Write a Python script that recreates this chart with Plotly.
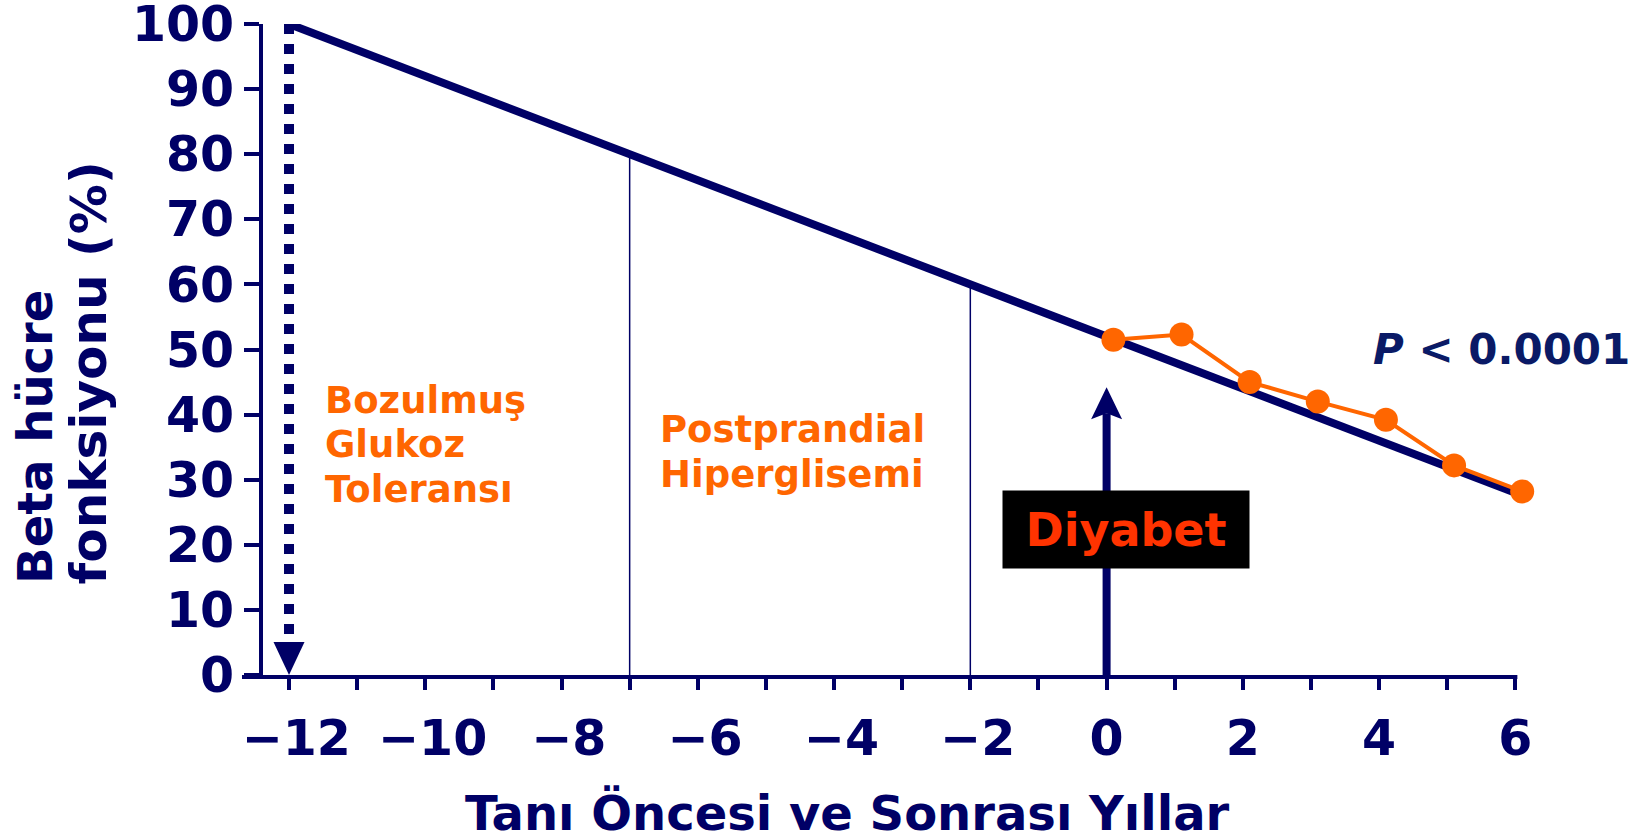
import numpy as np
import plotly.graph_objects as go

# ---------------- data ----------------
years_line = [-12, 6]
beta_line = [100, 28]
years_obs = [0.1, 1.1, 2.1, 3.1, 4.1, 5.1, 6.1]
beta_obs = [51.5, 52.3, 45.0, 42.0, 39.2, 32.2, 28.2]
phase_bounds = [-7, -2]
diagnosis_year = 0
diagnosis_arrow_top = 44.2
x_tick_vals = list(range(-12, 7, 2))
x_tick_text = ["\u2009\u200a\u221212", "\u2009\u200a\u221210", "\u2009\u200a\u22128",
               "\u2009\u200a\u22126", "\u2009\u200a\u22124", "\u2009\u200a\u22122",
               "0", "2", "4", "6"]
y_tick_vals = list(range(0, 101, 10))
y_tick_text = [str(v) for v in y_tick_vals]

# ---------------- style ----------------
NAVY = "#000066"
ORANGE = "#FF6600"
RED = "#FF3300"
FONT = "DejaVu Sans"

OFF = 0  # page body margin (removed by post_script)
W, H = 1650 - 2 * OFF, 839 - 2 * OFF
AX_L, X12_PX, X6_PX, Y0_PX, Y100_PX = 263, 289, 1515, 675, 24  # target page pixels
UNIT = (X6_PX - X12_PX) / 18.0
x_left = years_line[0] - (X12_PX - AX_L) / UNIT
x_right = 6.2
ML = AX_L - OFF
PW = (x_right - x_left) * UNIT
MR = W - ML - PW
MT = Y100_PX - OFF
PH = Y0_PX - Y100_PX
MB = H - MT - PH


def px_x(px):
    return (px - OFF - ML) / PW


def px_y(py):
    return (MT + PH - (py - OFF)) / PH


fig = go.Figure()

# dotted line at start (-12)
fig.add_trace(go.Scatter(
    x=[years_line[0], years_line[0]], y=[beta_line[0], 4.5],
    mode="lines", line=dict(color=NAVY, width=10, dash="dot"),
    hoverinfo="skip", showlegend=False))

# thin vertical phase boundaries up to the decline line
for xb in phase_bounds:
    yb = float(np.interp(xb, years_line, beta_line))
    fig.add_trace(go.Scatter(
        x=[xb, xb], y=[0, yb], mode="lines",
        line=dict(color=NAVY, width=1.5),
        hoverinfo="skip", showlegend=False))

# diagnosis arrow shaft
fig.add_trace(go.Scatter(
    x=[diagnosis_year, diagnosis_year], y=[0, diagnosis_arrow_top - 4],
    mode="lines", line=dict(color=NAVY, width=8),
    hoverinfo="skip", showlegend=False))

# main decline line
fig.add_trace(go.Scatter(
    x=years_line, y=beta_line, mode="lines",
    line=dict(color=NAVY, width=8),
    hoverinfo="skip", showlegend=False))

# observed data
fig.add_trace(go.Scatter(
    x=years_obs, y=beta_obs, mode="lines+markers",
    line=dict(color=ORANGE, width=4),
    marker=dict(color=ORANGE, size=24),
    cliponaxis=False, hoverinfo="skip", showlegend=False))

shapes = [
    # x axis line (ends at x = 6)
    dict(type="line", xref="paper", yref="paper",
         x0=px_x(242), x1=px_x(X6_PX + 2), y0=px_y(Y0_PX + 2), y1=px_y(Y0_PX + 2),
         line=dict(color=NAVY, width=4), layer="above"),
    # arrowhead of dotted line (pointing down)
    dict(type="path", xref="x", yref="y", xsizemode="pixel", ysizemode="pixel",
         xanchor=years_line[0], yanchor=0,
         path="M0,0 L-15.5,33 L15.5,33 Z",
         fillcolor=NAVY, line=dict(width=0), layer="above"),
    # arrowhead of diagnosis arrow (pointing up)
    dict(type="path", xref="x", yref="y", xsizemode="pixel", ysizemode="pixel",
         xanchor=diagnosis_year, yanchor=diagnosis_arrow_top,
         path="M0,0 L-15.5,-32 L0,-26 L15.5,-32 Z",
         fillcolor=NAVY, line=dict(width=0), layer="above"),
]

annotations = []
# y title (two lines, rotated)
for text, cx, fs in [("Beta hücre", 35, 48), ("fonksiyonu (%)", 89, 50)]:
    annotations.append(dict(
        text=text, xref="paper", yref="paper", x=px_x(cx), y=px_y(586),
        xanchor="center", yanchor="bottom", textangle=-90, showarrow=False,
        font=dict(family=FONT, size=fs, color=NAVY, weight="bold")))
# x title
annotations.append(dict(
    text="Tanı Öncesi ve Sonrası Yıllar", xref="paper", yref="paper",
    x=px_x(847), y=px_y(813), xanchor="center", yanchor="middle", showarrow=False,
    font=dict(family=FONT, size=48, color=NAVY, weight="bold")))
# orange phase labels
for text, lx, cy in [("Bozulmuş", 323, 400), ("Glukoz", 323, 444), ("Toleransı", 323, 489),
                     ("Postprandial", 658, 429), ("Hiperglisemi", 658, 474)]:
    annotations.append(dict(
        text=text, xref="paper", yref="paper", x=px_x(lx), y=px_y(cy),
        xanchor="left", yanchor="middle", showarrow=False,
        font=dict(family=FONT, size=37, color=ORANGE, weight="bold")))
# Diyabet box
annotations.append(dict(
    text="Diyabet", xref="paper", yref="paper", x=px_x(1126), y=px_y(529.5),
    xanchor="center", yanchor="middle", showarrow=False,
    bgcolor="black", width=246, height=77, borderpad=0,
    font=dict(family=FONT, size=46, color=RED, weight="bold")))
# P value
annotations.append(dict(
    text="<i>P</i> &lt; 0.0001", xref="paper", yref="paper", x=px_x(1371), y=px_y(349),
    xanchor="left", yanchor="middle", showarrow=False,
    font=dict(family=FONT, size=42, color="#0A1A66", weight="bold")))

fig.update_layout(
    width=W, height=H,
    margin=dict(l=ML, r=MR, t=MT, b=MB, pad=0, autoexpand=False),
    paper_bgcolor="white", plot_bgcolor="white",
    shapes=shapes, annotations=annotations,
    xaxis=dict(range=[x_left, x_right], showgrid=False, zeroline=False,
               showline=False,
               tickmode="array", tickvals=x_tick_vals, ticktext=x_tick_text,
               ticks="outside", ticklen=14, tickwidth=4, tickcolor=NAVY,
               minor=dict(tickmode="array", tickvals=list(range(-11, 6, 2)),
                          ticks="outside", ticklen=14, tickwidth=4, tickcolor=NAVY, showgrid=False),
               ticklabelstandoff=6, ticklabeloverflow="allow",
               tickfont=dict(family=FONT, size=49, color=NAVY, weight="bold")),
    yaxis=dict(range=[0, 100], showgrid=False, zeroline=False,
               showline=True, linecolor=NAVY, linewidth=4,
               tickmode="array", tickvals=y_tick_vals, ticktext=y_tick_text,
               ticks="outside", ticklen=15, tickwidth=4, tickcolor=NAVY,
               ticklabelstandoff=0, ticklabeloverflow="allow",
               tickfont=dict(family=FONT, size=49, color=NAVY, weight="bold")),
)

fig.write_html("out.html", config={"displayModeBar": False},
               post_script="document.body.style.margin='0';document.body.style.overflow='hidden';")
